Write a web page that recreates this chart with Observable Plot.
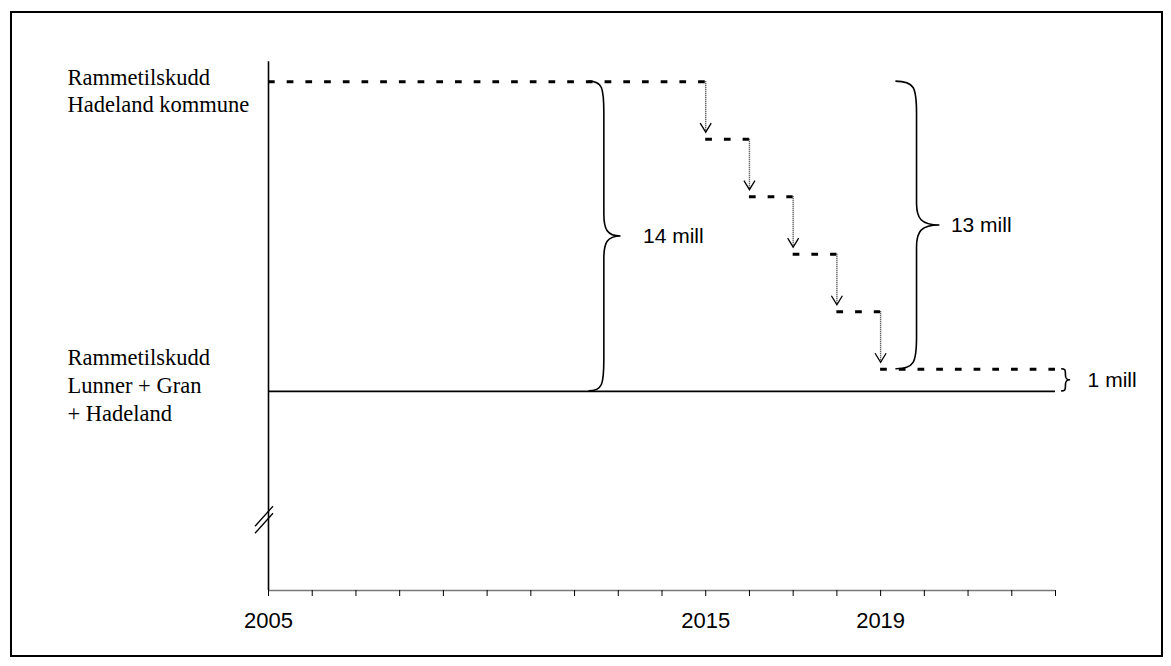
<!DOCTYPE html>
<html>
<head>
<meta charset="utf-8">
<script src="https://cdn.jsdelivr.net/npm/d3@7"></script>
<script src="https://cdn.jsdelivr.net/npm/@observablehq/plot@0.6"></script>
<style>
  html, body { margin: 0; padding: 0; background: #fff; }
  #wrap { position: relative; width: 1171px; height: 666px; }
  #wrap svg { position: absolute; left: 0; top: 0; }
  #border { position: absolute; left: 10px; top: 11px; width: 1149px; height: 642px; border: 2px solid #000; pointer-events: none; }
</style>
</head>
<body>
<div id="wrap"><div id="border"></div></div>
<script>
// ---- data ----
const stepYears = [2005, 2015, 2016, 2017, 2018, 2019, 2023];   // step boundaries
const stepValues = [14, 11.4, 8.8, 6.2, 3.6, 1];                  // mill NOK above the common frame
const baseValue = 0;
const tickYears = [2005, 2006, 2007, 2008, 2009, 2010, 2011, 2012, 2013, 2014, 2015, 2016, 2017, 2018, 2019, 2020, 2021, 2022, 2023];
const labeledYears = [2005, 2015, 2019];
const groupLabels = ["Rammetilskudd\nHadeland kommune", "Rammetilskudd\nLunner + Gran\n+ Hadeland"];
const groupValues = [14, 0];
const braceFrom = [0, 1, 0];
const braceTo = [14, 14, 1];
const braceLabels = ["14 mill", "13 mill", "1 mill"];
const axisBreakValue = -5.8;

// ---- layout (not data) ----
const yAxisMin = -9, yAxisMax = 14.9;
const braceLayout = [
  {x: 2012.33, w: 32, gap: 22},
  {x: 2019.35, w: 44, gap: 11},
  {x: 2023.14, w: 9, gap: 17}
];

const steps = stepValues.map((v, i) => ({x1: stepYears[i], x2: stepYears[i + 1], v}));
const drops = stepValues.slice(0, -1).map((v, i) => ({x: stepYears[i + 1], from: v, to: stepValues[i + 1]}));

function bracePath(x0, yTop, yBot, w) {
  const h = yBot - yTop, mid = (yTop + yBot) / 2;
  const sp = x0 + w * 0.48, tip = x0 + w;
  const r1 = Math.min(32, h * 0.22), r2 = Math.min(22, h * 0.22);
  return `M${x0},${yTop}` +
    `C${x0 + (sp - x0) * 0.9},${yTop} ${sp},${yTop + r1 * 0.2} ${sp},${yTop + r1}` +
    `L${sp},${mid - r2}` +
    `C${sp},${mid - r2 * 0.3} ${sp + (tip - sp) * 0.2},${mid} ${tip},${mid}` +
    `C${sp + (tip - sp) * 0.2},${mid} ${sp},${mid + r2 * 0.3} ${sp},${mid + r2}` +
    `L${sp},${yBot - r1}` +
    `C${sp},${yBot - r1 * 0.2} ${x0 + (sp - x0) * 0.9},${yBot} ${x0},${yBot}`;
}

const chevron = {
  draw(ctx) { ctx.moveTo(-5.5, -9); ctx.lineTo(0, 0); ctx.lineTo(5.5, -9); }
};

const sans = "'Liberation Sans', Arial, Helvetica, sans-serif";
const serif = "'Liberation Serif', 'Times New Roman', Times, serif";

const chart = Plot.plot({
  width: 1171,
  height: 666,
  marginLeft: 268,
  marginRight: 116,
  marginTop: 59,
  marginBottom: 76,
  x: {domain: [2005, 2023], axis: null},
  y: {domain: [yAxisMin, 15], axis: null},
  style: {fontFamily: sans, fontSize: "22px", background: "transparent", overflow: "visible", color: "black"},
  marks: [
    // x axis line (gray) and ticks
    Plot.ruleY([yAxisMin], {x1: stepYears[0], x2: stepYears[stepYears.length - 1], stroke: "#7a7a7a", strokeWidth: 1.6}),
    Plot.axisX({ticks: tickYears, tickFormat: d => labeledYears.includes(d) ? String(d) : "", tickSize: 6, tickPadding: 16, fontSize: 22, label: null, stroke: "black"}),
    // y axis line
    Plot.ruleX([stepYears[0]], {y1: yAxisMin, y2: yAxisMax, stroke: "black", strokeWidth: 1.6}),
    // axis break marks
    (index, {x, y}) => {
      const cx = x(stepYears[0]), cy = y(axisBreakValue);
      const g = d3.create("svg:g").attr("stroke", "black").attr("stroke-width", 1.3).attr("fill", "none");
      g.append("path").attr("d", `M${cx - 13},${cy + 7}L${cx + 5},${cy - 13}`);
      g.append("path").attr("d", `M${cx - 13},${cy + 14}L${cx + 5},${cy - 6}`);
      return g.node();
    },
    // common frame baseline
    Plot.ruleY([baseValue], {x1: stepYears[0], x2: stepYears[stepYears.length - 1], stroke: "black", strokeWidth: 1.6}),
    // dashed steps
    Plot.ruleY(steps, {y: "v", x1: "x1", x2: "x2", stroke: "black", strokeWidth: 3, strokeDasharray: "6.7,12"}),
    // dotted drops with arrowheads
    Plot.ruleX(drops, {x: "x", y1: "from", y2: "to", insetBottom: 7, stroke: "#333", strokeWidth: 1.4, strokeDasharray: "1,1"}),
    Plot.dot(drops, {x: "x", y: "to", dy: -7, symbol: chevron, r: 5, fill: "none", stroke: "black", strokeWidth: 1.3}),
    // braces
    (index, {x, y}) => {
      const g = d3.create("svg:g").attr("fill", "none").attr("stroke", "black").attr("stroke-width", 1.6);
      braceFrom.forEach((f, i) => {
        const L = braceLayout[i];
        g.append("path").attr("d", bracePath(x(L.x), y(braceTo[i]), y(f), L.w));
      });
      return g.node();
    },
    ...braceLabels.map((t, i) => Plot.text([t], {
      x: braceLayout[i].x, y: (braceFrom[i] + braceTo[i]) / 2, text: d => d,
      dx: braceLayout[i].w + braceLayout[i].gap, textAnchor: "start", fontSize: 21, fontFamily: sans, fill: "black"
    })),
    // group labels on the left
    Plot.text([0], {x: stepYears[0], y: groupValues[0], text: () => groupLabels[0], dx: -201, dy: -17,
      textAnchor: "start", lineAnchor: "top", lineHeight: 1.244, fontFamily: serif, fontSize: 22.5, fill: "black"}),
    Plot.text([1], {x: stepYears[0], y: groupValues[1], text: () => groupLabels[1], dx: -201, dy: -46.5,
      textAnchor: "start", lineAnchor: "top", lineHeight: 1.244, fontFamily: serif, fontSize: 22.5, fill: "black"})
  ]
});

document.getElementById("wrap").prepend(chart);
</script>
</body>
</html>
